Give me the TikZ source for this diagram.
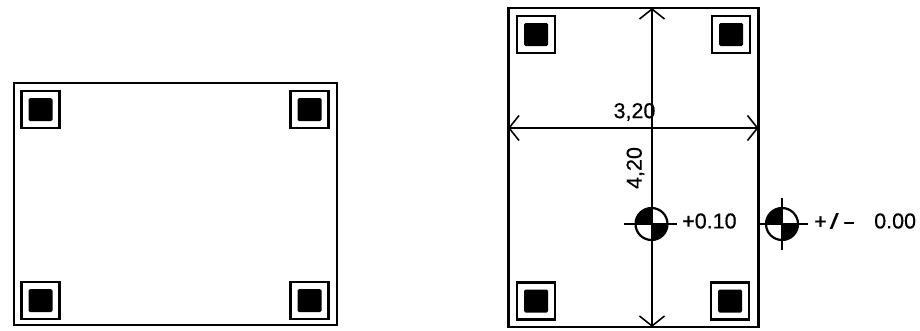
\documentclass[tikz,border=0pt]{standalone}
\usepackage{fontspec}
\setmainfont[FakeBold=0.4]{Liberation Sans}
\usetikzlibrary{arrows.meta}
\tikzset{
  x=1pt,y=-1pt,
  plan/.style={draw=black,line width=2.3pt,fill=none,inner sep=0pt,outer sep=0pt},
  outerbox/.style={draw=black,line width=2.3pt,fill=white,minimum width=38pt,minimum height=37pt,inner sep=0pt,outer sep=0pt},
  innerbox/.style={fill=black,rounded corners=1.5pt,minimum width=24pt,minimum height=23pt,inner sep=0pt,outer sep=0pt},
  dimline/.style={draw=black,{Straight Barb[length=10pt,width=25pt,line width=1.6pt]}-{Straight Barb[length=10pt,width=25pt,line width=1.6pt]}},
  lab/.style={inner sep=0pt,font=\fontsize{21.5}{21.5}\selectfont,text=black},
  mark circle/.style={circle,draw=black,line width=2.2pt,minimum size=32pt,inner sep=0pt,outer sep=0pt},
  tick/.style={draw=black,line width=1.6pt},
}
\newcommand{\column}[3]{%
  \node[outerbox] (#1o) at (#2,#3) {};
  \node[innerbox] (#1i) at (#2,#3) {};
}
\newcommand{\levelmark}[3]{%
  \fill[black] (#2,#3) -- ++(-16,0) arc[start angle=180,end angle=90,radius=16pt] -- cycle;
  \fill[black] (#2,#3) -- ++(16,0) arc[start angle=0,end angle=-90,radius=16pt] -- cycle;
  \node[mark circle] (#1) at (#2,#3) {};
}
\begin{document}
\begin{tikzpicture}
\useasboundingbox (0,0) rectangle (920,330);
% left plan
\node[plan,minimum width=323pt,minimum height=242pt] (leftplan) at (175.5,204) {};
\column{la}{40.5}{109.5}
\column{lb}{309.5}{109.5}
\column{lc}{40.5}{300.5}
\column{ld}{309.5}{300.5}
% right plan
\node[plan,minimum width=250pt,minimum height=319pt] (rightplan) at (633.5,167.5) {};
\column{ra}{536}{34.5}
\column{rb}{731}{34.5}
\column{rc}{536}{301}
\column{rd}{730}{301}
% dimensions
\coordinate (vtop) at (652,8);
\coordinate (vbot) at (652,327);
\coordinate (hl) at (508,128);
\coordinate (hr) at (758.5,128);
\draw[dimline,line width=1.5pt] (hl) -- (hr);
\draw[dimline,line width=2.2pt] (vtop) -- (vbot);
\node[lab] (w) at (634.5,112) {3,20};
\node[lab,rotate=90] (h) at (635.5,168) {4,20};
% level marks
\levelmark{ma}{651.5}{224}
\levelmark{mb}{782}{224}
\coordinate (maL) at (624,224);
\coordinate (maR) at (677,224);
\coordinate (mbL) at (758,224);
\coordinate (mbR) at (808,224);
\coordinate (mbT) at (782,198);
\coordinate (mbB) at (782,250);
\draw[tick] (maL) -- (maR);
\draw[tick] (mbL) -- (mbR);
\draw[tick] (mbT) -- (mbB);
\node[lab,anchor=west] (t1) at (682,221) {+0.10};
\node[lab,anchor=west] (t2) at (814,221) {+\kern3pt\scalebox{1.5}[1]{/}\kern4pt\scalebox{1.8}[1]{-}};
\node[lab,anchor=west] (t3) at (874,221) {0.00};
\end{tikzpicture}
\end{document}
